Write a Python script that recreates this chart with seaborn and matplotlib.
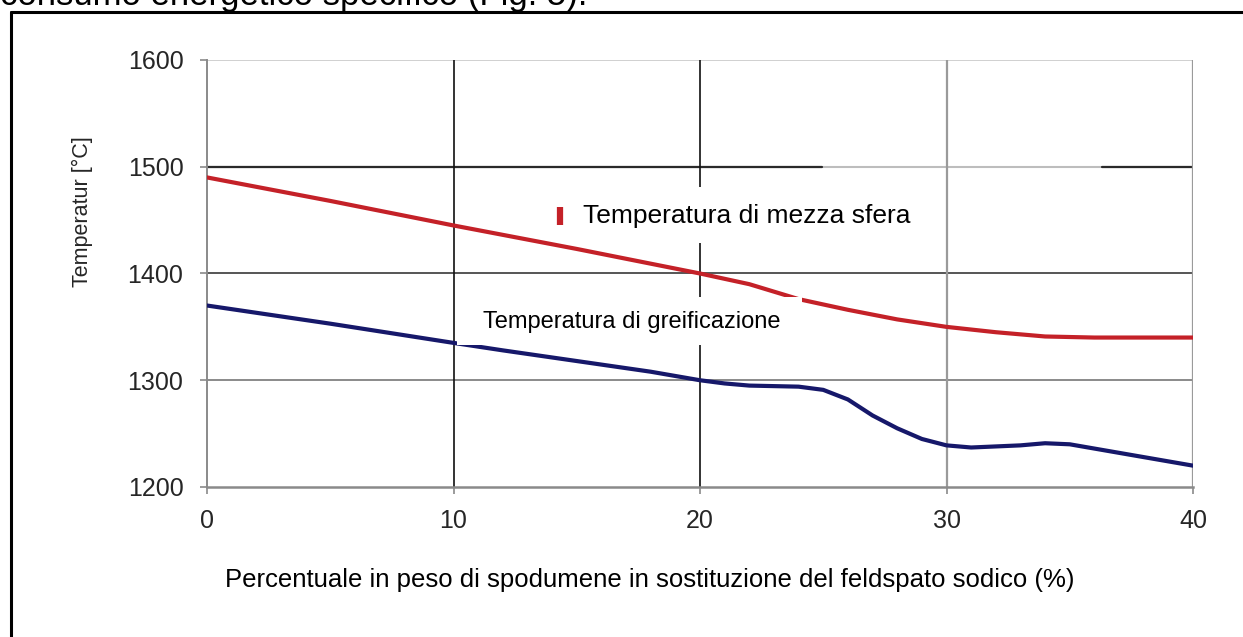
import numpy as np
import pandas as pd
import matplotlib
matplotlib.use("Agg")
import matplotlib.pyplot as plt
import seaborn as sns
from matplotlib.patches import Rectangle

# ---- data ----
x_red = [0, 5, 10, 15, 20, 22, 24, 26, 28, 30, 32, 34, 36, 38, 40]
y_red = [1490, 1468, 1445, 1423, 1400, 1390, 1376, 1366, 1357, 1350, 1345, 1341, 1340, 1340, 1340]

x_blue = [0, 5, 10, 12, 15, 18, 20, 21, 22, 24, 25, 26, 27, 28, 29, 30, 31, 32, 33, 34, 35, 36, 37, 38, 39, 40]
y_blue = [1370, 1353, 1335, 1328, 1318, 1308, 1300, 1297, 1295, 1294, 1291, 1282, 1267, 1255, 1245,
          1239, 1237, 1238, 1239, 1241, 1240, 1236, 1232, 1228, 1224, 1220]

x_ticks = [0, 10, 20, 30, 40]
y_ticks = [1200, 1300, 1400, 1500, 1600]

label_red = "Temperatura di mezza sfera"
label_blue = "Temperatura di greificazione"
x_label = "Percentuale in peso di spodumene in sostituzione del feldspato sodico (%)"
y_label = "Temperatur [°C]"
top_text = "consumo energetico specifico (Fig. 5)."

sns.set_theme(style="white")
plt.rcParams['font.family'] = ['Liberation Sans', 'DejaVu Sans']

fig = plt.figure(figsize=(12.43, 6.37), dpi=100)
fig.patch.set_facecolor("white")
ax = fig.add_axes([207/1243, 1-487/637, (1193-207)/1243, (487-60)/637])
ax.set_facecolor("white")

df_red = pd.DataFrame({"x": x_red, "y": y_red})
df_blue = pd.DataFrame({"x": x_blue, "y": y_blue})

ax.set_xlim(0, 40)
ax.set_ylim(1200, 1600)

# grid lines
ax.axhline(1600, color="#c8c8c8", lw=1.2, zorder=1)
ax.axhline(1500, color="#bdbdbd", lw=1.5, zorder=1)
ax.axhline(1500, xmin=0, xmax=(822-207)/986, color="#2a2a2a", lw=1.6, zorder=1)
ax.axhline(1500, xmin=(1102-207)/986, xmax=1, color="#2a2a2a", lw=1.6, zorder=1)
ax.axhline(1400, color="#555555", lw=1.4, zorder=1)
ax.axhline(1300, color="#8a8a8a", lw=1.4, zorder=1)
ax.axvline(10, color="#111111", lw=1.2, zorder=1)
ax.axvline(20, color="#111111", lw=1.2, zorder=1)
ax.axvline(30, color="#9a9a9a", lw=1.6, zorder=1)
ax.axvline(40, color="#9a9a9a", lw=1.6, zorder=1)

sns.lineplot(data=df_red, x="x", y="y", ax=ax, color="#c42128", lw=3.0, zorder=3)
sns.lineplot(data=df_blue, x="x", y="y", ax=ax, color="#16186a", lw=3.0, zorder=3)

# label boxes
ax.add_patch(Rectangle(((563-207)/986, 1-(243-60)/427), (935-563)/986, (243-187)/427,
                       transform=ax.transAxes, facecolor="white", edgecolor="none", zorder=4))
ax.add_patch(Rectangle(((457-207)/986, 1-(345-60)/427), (802-457)/986, (345-297)/427,
                       transform=ax.transAxes, facecolor="white", edgecolor="none", zorder=4))
ax.plot([(560-207)/986, (560-207)/986], [1-(225-60)/427, 1-(207-60)/427], transform=ax.transAxes,
        color="#c42128", lw=4.5, solid_capstyle="butt", zorder=5)
ax.text((583-207)/986, 1-(216-60)/427, label_red, transform=ax.transAxes, fontsize=19,
        va="center", ha="left", color="black", zorder=6)
ax.text((483-207)/986, 1-(322-60)/427, label_blue, transform=ax.transAxes, fontsize=17,
        va="center", ha="left", color="black", zorder=6)

# axes styling
for s in ["top", "right"]:
    ax.spines[s].set_visible(False)
ax.spines["left"].set_color("#8a8a8a")
ax.spines["left"].set_linewidth(1.4)
ax.spines["bottom"].set_color("#8a8a8a")
ax.spines["bottom"].set_linewidth(1.8)
ax.set_xticks(x_ticks)
ax.set_yticks(y_ticks)
ax.set_xticklabels([str(v) for v in x_ticks])
ax.set_yticklabels([str(v) for v in y_ticks])
ax.tick_params(axis="both", which="major", direction="out", length=5, width=1.2,
               color="#8a8a8a", labelsize=18, labelcolor="#262626", left=True, bottom=True)
ax.tick_params(axis="x", pad=11)
ax.tick_params(axis="y", pad=12)
ax.set_xlabel("")
ax.set_ylabel(y_label, fontsize=15.5, color="#262626")
ax.yaxis.set_label_coords(-0.116, 0.645)

fig.text(650/1243, 1-580/637, x_label, fontsize=18.5, ha="center", va="center", color="black")

# page border & cut-off text
fig.add_artist(plt.Line2D([11/1243, 11/1243], [0, 1-12/637], transform=fig.transFigure, color="black", lw=2.2))
fig.add_artist(plt.Line2D([11/1243, 1], [1-12/637, 1-12/637], transform=fig.transFigure, color="black", lw=2.2))
fig.text(0/1243, 1-5/637, top_text, fontsize=25, ha="left", va="baseline", color="black")

fig.savefig("out.png", dpi=100, facecolor="white")
